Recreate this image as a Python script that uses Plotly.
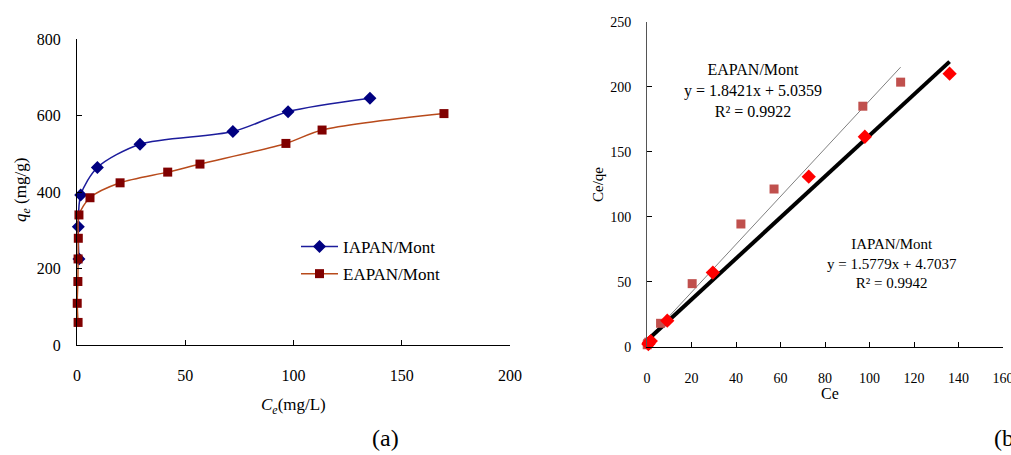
import plotly.graph_objects as go

# window size; page margin removed via post_script
W, H = 1011, 455
OFF = 0

# ---- panel (a) data: isotherms ----
ia_ce = [0.9, 0.6, 1.7, 9.4, 29.1, 72.0, 97.5, 135.3]
ia_qe = [225, 309, 392, 464, 525, 558, 610, 645]
ea_ce = [0.5, 0.1, 0.4, 0.5, 0.6, 0.9, 6.0, 19.9, 41.9, 56.8, 96.5, 113.2, 169.5]
ea_qe = [59, 109, 166, 225, 279, 340, 385, 424, 452, 473, 527, 562, 605]

# ---- panel (b) data: linear Langmuir plot ----
ib_ce = [0.6, 0.9, 1.7, 9.1, 29.6, 72.7, 97.9, 136.0]
ib_cq = [2.0, 3.0, 4.3, 20.0, 57.0, 130.8, 161.5, 210.0]
eb_ce = [0.1, 0.4, 0.5, 0.6, 0.9, 6.1, 20.3, 42.2, 57.1, 97.0, 114.0]
eb_cq = [1.5, 2.5, 2.5, 2.8, 3.5, 18.0, 48.5, 94.4, 121.3, 185.0, 203.5]
ia_slope, ia_int, ia_xmax = 1.5779, 4.7037, 136.0
ea_slope, ea_int, ea_xmax = 1.8421, 5.0359, 114.0

SERIF = "Liberation Serif, Times New Roman, serif"


def px(x):
    return (x - OFF) / W


def py(y):
    return 1 - (y - OFF) / H


fig = go.Figure()

# panel (a)
fig.add_trace(go.Scatter(
    x=ia_ce, y=ia_qe, mode="lines+markers", name="IAPAN/Mont",
    line=dict(color="#1c1c9c", width=1.5, shape="spline", smoothing=0.8),
    marker=dict(symbol="diamond", size=10, color="#000080"),
    xaxis="x", yaxis="y", legendgroup="a", cliponaxis=False))
fig.add_trace(go.Scatter(
    x=ea_ce, y=ea_qe, mode="lines+markers", name="EAPAN/Mont",
    line=dict(color="#b84a1b", width=1.5, shape="spline", smoothing=0.8),
    marker=dict(symbol="square", size=9, color="#800000"),
    xaxis="x", yaxis="y", legendgroup="b", cliponaxis=False))

# panel (b) trendlines
fig.add_trace(go.Scatter(
    x=[0, ea_xmax], y=[ea_int, ea_int + ea_slope * ea_xmax], mode="lines",
    line=dict(color="#808080", width=1), xaxis="x2", yaxis="y2",
    showlegend=False, cliponaxis=False))
fig.add_trace(go.Scatter(
    x=[0, ia_xmax], y=[ia_int, ia_int + ia_slope * ia_xmax], mode="lines",
    line=dict(color="black", width=4), xaxis="x2", yaxis="y2",
    showlegend=False, cliponaxis=False))
fig.add_trace(go.Scatter(
    x=eb_ce, y=eb_cq, mode="markers",
    marker=dict(symbol="square", size=9, color="#c0504d"),
    xaxis="x2", yaxis="y2", showlegend=False, cliponaxis=False))
fig.add_trace(go.Scatter(
    x=ib_ce, y=ib_cq, mode="markers",
    marker=dict(symbol="diamond", size=11, color="#ff0000"),
    xaxis="x2", yaxis="y2", showlegend=False, cliponaxis=False))

axis_common = dict(showline=True, linecolor="black", linewidth=1, ticks="inside",
                   ticklen=5, tickcolor="black", showgrid=False, zeroline=False,
                   automargin=False, ticklabeloverflow="allow",
                   tickfont=dict(family=SERIF, size=16, color="black"))

fig.update_layout(
    width=W, height=H, margin=dict(l=0, r=0, t=0, b=0, autoexpand=False),
    paper_bgcolor="white", plot_bgcolor="white",
    font=dict(family=SERIF, color="black"),
    hovermode=False,
    xaxis=dict(domain=[px(77), px(510)], range=[0, 200], tickvals=[0, 50, 100, 150, 200],
               anchor="y", ticklabelstandoff=16, **axis_common),
    yaxis=dict(domain=[py(345), py(39)], range=[0, 800], tickvals=[0, 200, 400, 600, 800],
               anchor="x", ticklabelstandoff=12, **axis_common),
    xaxis2=dict(domain=[px(647), px(1003)], range=[0, 160], dtick=20,
                anchor="y2", ticklabelstandoff=18,
                **{**axis_common, "tickfont": dict(family=SERIF, size=14, color="black")}),
    yaxis2=dict(domain=[py(346.7), py(21.7)], range=[0, 250], dtick=50,
                anchor="x2", ticklabelstandoff=12,
                **{**axis_common, "linecolor": "#555555",
                   "tickfont": dict(family=SERIF, size=14, color="black")}),
    legend=dict(x=px(296), y=py(229), xanchor="left", yanchor="top",
                font=dict(family=SERIF, size=17, color="black"),
                bgcolor="rgba(0,0,0,0)", itemwidth=37, tracegroupgap=2,
                traceorder="grouped"),
    showlegend=True,
)

ann = [
    dict(x=px(22), y=py(190), text="<i>q</i><sub><i>e</i></sub> (mg/g)", textangle=-90,
         font=dict(size=17)),
    dict(x=px(293), y=py(406), text="<i>C</i><sub><i>e</i></sub>(mg/L)", font=dict(size=17)),
    dict(x=px(385), y=py(438), text="(a)", font=dict(size=24)),
    dict(x=px(598), y=py(185), text="Ce/qe", textangle=-90, font=dict(size=15)),
    dict(x=px(830), y=py(393), text="Ce", font=dict(size=16)),
    dict(x=px(992), y=py(438), text="(b)", xanchor="left", font=dict(size=24)),
    dict(x=px(753), y=py(91), text="EAPAN/Mont<br>y = 1.8421x + 5.0359<br>R² = 0.9922",
         font=dict(size=16)),
    dict(x=px(892), y=py(263), text="IAPAN/Mont<br>y = 1.5779x + 4.7037<br>R² = 0.9942",
         font=dict(size=15)),
]
for a in ann:
    a.setdefault("xanchor", "center")
    a.update(xref="paper", yref="paper", showarrow=False, yanchor="middle")
    a["font"] = dict(family=SERIF, color="black", size=a["font"]["size"])
fig.update_layout(annotations=ann)

fig.write_html(
    "out.html",
    config={"displayModeBar": False},
    post_script="document.body.style.margin='0';document.body.style.overflow='hidden';",
)
